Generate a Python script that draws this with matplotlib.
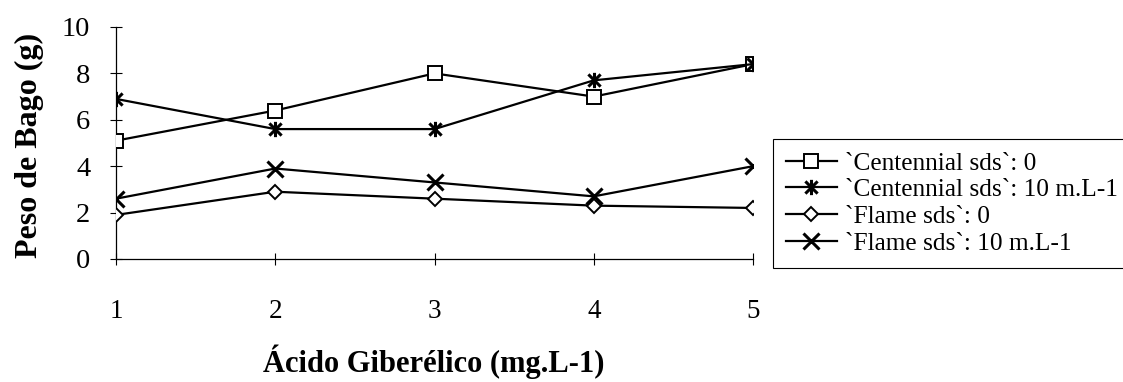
import matplotlib
matplotlib.use("Agg")
import matplotlib.pyplot as plt
from matplotlib.path import Path

# Gibberellic acid levels (category positions) and berry weight per series
doses = [1, 2, 3, 4, 5]
centennial_0 = [5.1, 6.4, 8.0, 7.0, 8.4]
centennial_10 = [6.9, 5.6, 5.6, 7.7, 8.4]
flame_0 = [1.9, 2.9, 2.6, 2.3, 2.2]
flame_10 = [2.6, 3.9, 3.3, 2.7, 4.0]

labels = [
    "`Centennial sds`: 0",
    "`Centennial sds`: 10 m.L-1",
    "`Flame sds`: 0",
    "`Flame sds`: 10 m.L-1",
]
y_ticks = [0, 2, 4, 6, 8, 10]

plt.rcParams["font.family"] = ["Liberation Serif", "DejaVu Serif"]

# Star marker: an X crossed by a vertical stroke
star = Path(
    [(-1, -1), (1, 1), (-1, 1), (1, -1), (0, -1.25), (0, 1.25)],
    [Path.MOVETO, Path.LINETO, Path.MOVETO, Path.LINETO, Path.MOVETO, Path.LINETO],
)

fig = plt.figure(figsize=(11.23, 3.82), dpi=100)
ax = fig.add_axes([116 / 1123, 1 - 259 / 382, 637 / 1123, 232 / 382])

lw = 1.6
ax.plot(doses, centennial_0, color="black", lw=lw, marker="s", markersize=9.5,
        markerfacecolor="white", markeredgecolor="black", markeredgewidth=1.4,
        label=labels[0], zorder=3)
ax.plot(doses, centennial_10, color="black", lw=lw, marker=star, markersize=11,
        markeredgecolor="black", markeredgewidth=2.2, label=labels[1], zorder=4)
ax.plot(doses, flame_0, color="black", lw=lw, marker="D", markersize=7.5,
        markerfacecolor="white", markeredgecolor="black", markeredgewidth=1.4,
        label=labels[2], zorder=3)
ax.plot(doses, flame_10, color="black", lw=lw, marker="x", markersize=11,
        markeredgecolor="black", markeredgewidth=2.2, label=labels[3], zorder=4)

ax.set_xlim(doses[0], doses[-1])
ax.set_ylim(0, 10)
ax.set_xticks(doses)
ax.set_xticklabels([str(d) for d in doses])
ax.set_yticks(y_ticks)

for side in ("top", "right"):
    ax.spines[side].set_visible(False)
for side in ("left", "bottom"):
    ax.spines[side].set_linewidth(0.9)
    ax.spines[side].set_color("black")
    ax.spines[side].set_clip_on(False)

ax.tick_params(axis="y", direction="inout", length=9, width=0.8,
               labelsize=20.5, pad=14)
ax.tick_params(axis="x", direction="inout", length=9, width=0.8,
               labelsize=19.5, pad=24)
for t in ax.get_xticklabels() + ax.get_yticklabels():
    t.set_clip_on(False)

fig.text(29 / 1123, 1 - 145 / 382, "Peso de Bago (g)", rotation=90,
         ha="center", va="center", fontsize=23, fontweight="bold")
fig.text(434 / 1123, 1 - 372 / 382, "Ácido Giberélico (mg.L-1)",
         ha="center", va="baseline", fontsize=22, fontweight="bold")

leg = fig.legend(
    loc="upper left", bbox_to_anchor=(773 / 1123, 1 - 139 / 382),
    bbox_transform=fig.transFigure, borderaxespad=0, fontsize=18.3,
    frameon=True, fancybox=False, edgecolor="black", framealpha=1,
    handlelength=2.0, handletextpad=0.35, labelspacing=0.16, borderpad=0.5,
)
leg.get_frame().set_linewidth(0.8)

fig.savefig("out.png", dpi=100)
